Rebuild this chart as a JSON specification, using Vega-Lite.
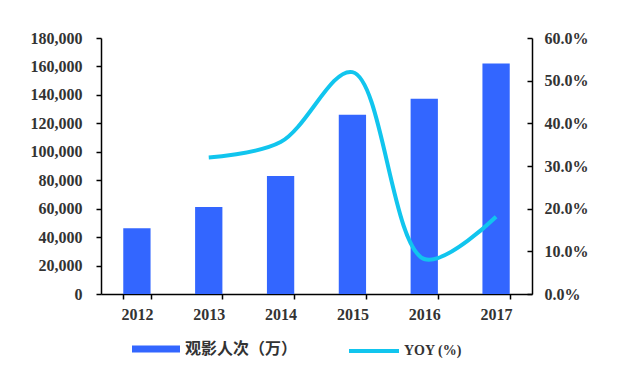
{
  "$schema": "https://vega.github.io/schema/vega-lite/v6.json",
  "width": 431,
  "height": 256,
  "autosize": "none",
  "padding": {"left": 101, "top": 38, "right": 108, "bottom": 85},
  "background": "white",
  "data": {
    "values": [
      {"year": "2012", "admissions": 46200, "yoy": null},
      {"year": "2013", "admissions": 61200, "yoy": 0.32},
      {"year": "2014", "admissions": 83000, "yoy": 0.356},
      {"year": "2015", "admissions": 126000, "yoy": 0.52},
      {"year": "2016", "admissions": 137200, "yoy": 0.082},
      {"year": "2017", "admissions": 162000, "yoy": 0.181}
    ]
  },
  "config": {
    "view": {"stroke": null},
    "axis": {
      "grid": false,
      "domainColor": "#000",
      "tickColor": "#000",
      "domainWidth": 1.5,
      "tickWidth": 1.5,
      "labelFont": "Liberation Serif",
      "labelFontSize": 16,
      "labelFontWeight": "bold",
      "labelColor": "#333"
    }
  },
  "encoding": {
    "x": {
      "field": "year",
      "type": "ordinal",
      "scale": {"paddingInner": 0.62, "paddingOuter": 0.31},
      "axis": {"title": null, "labelAngle": 0, "tickBand": "extent", "tickSize": 5, "labelPadding": 7}
    }
  },
  "layer": [
    {
      "mark": {"type": "bar"},
      "encoding": {
        "y": {
          "field": "admissions",
          "type": "quantitative",
          "scale": {"domain": [0, 180000], "nice": false},
          "axis": {"title": null, "format": ",.0f", "values": [0, 20000, 40000, 60000, 80000, 100000, 120000, 140000, 160000, 180000], "tickSize": 5, "labelPadding": 14}
        },
        "fill": {
          "datum": "观影人次（万）",
          "scale": {"range": ["#3366FF"]},
          "legend": {
            "orient": "none",
            "legendX": 31,
            "legendY": 287,
            "title": null,
            "symbolType": "M-1,-0.15H1V0.15H-1Z",
            "symbolSize": 2304,
            "symbolStrokeWidth": 0,
            "labelFont": "Noto Sans CJK SC",
            "labelFontSize": 16,
            "labelFontWeight": "bold",
            "labelColor": "#333",
            "labelOffset": 5
          }
        }
      }
    },
    {
      "transform": [{"filter": "datum.yoy != null"}],
      "mark": {"type": "line", "interpolate": "catmull-rom", "strokeWidth": 4},
      "encoding": {
        "y": {
          "field": "yoy",
          "type": "quantitative",
          "scale": {"domain": [0, 0.6], "nice": false},
          "axis": {"title": null, "orient": "right", "format": ".1%", "values": [0, 0.1, 0.2, 0.3, 0.4, 0.5, 0.6], "tickSize": -5, "labelPadding": 17}
        },
        "stroke": {
          "datum": "YOY (%)",
          "scale": {"range": ["#11C5EE"]},
          "legend": {
            "orient": "none",
            "legendX": 246,
            "legendY": 286,
            "title": null,
            "symbolType": "stroke",
            "symbolSize": 2500,
            "symbolStrokeWidth": 4,
            "labelFont": "Liberation Serif",
            "labelFontSize": 14,
            "labelFontWeight": "bold",
            "labelColor": "#333",
            "labelOffset": 3
          }
        }
      }
    }
  ],
  "resolve": {"scale": {"y": "independent"}}
}
